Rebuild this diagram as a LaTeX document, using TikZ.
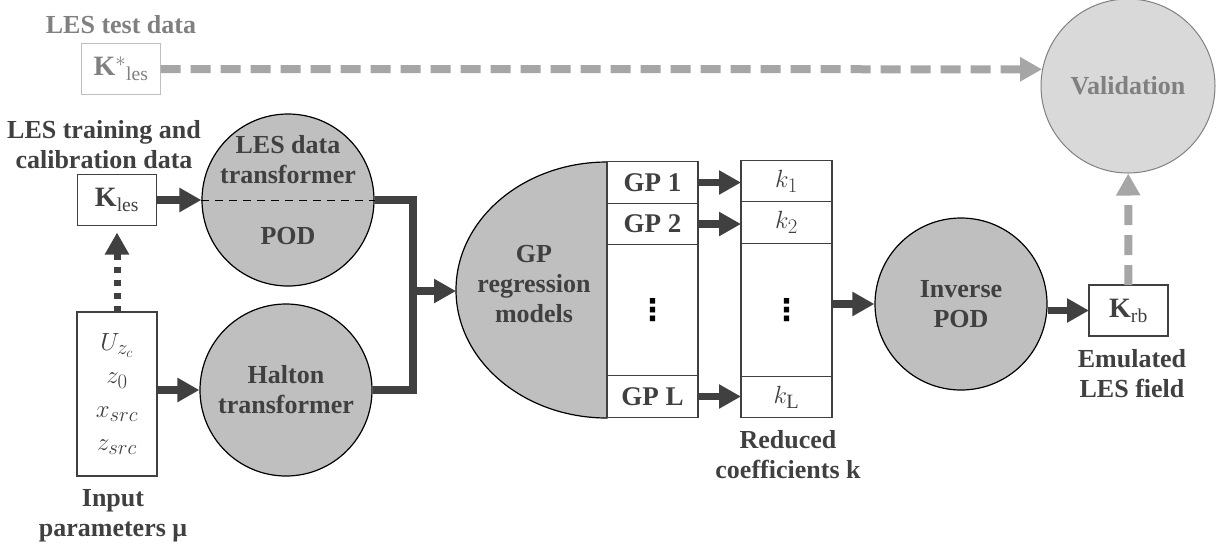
\documentclass[tikz,border=0pt]{standalone}
\usepackage{amsmath}
\usepackage{fontspec}
\setmainfont{Liberation Serif}
\newfontfamily\dotsfont{DejaVu Sans}
\usetikzlibrary{positioning, arrows.meta}
\definecolor{ink}{HTML}{404040}
\definecolor{fillgray}{HTML}{BFBFBF}
\definecolor{lightfill}{HTML}{D9D9D9}
\definecolor{midgray}{HTML}{808080}
\definecolor{dashgray}{HTML}{A6A6A6}
\tikzset{
txt/.style={font=\fontsize{26}{30}\selectfont\bfseries, text=ink, align=center, inner sep=0pt}, % plain labels
proc/.style={txt, circle, draw=black, line width=1.2pt, fill=fillgray, minimum size=172pt}, % grey process circles
databox/.style={draw=ink, line width=1.3pt, fill=white, minimum width=79pt, minimum height=51pt, inner sep=0pt, outer sep=0pt, align=center, font=\fontsize{28}{30}\selectfont, text=ink}, % small data boxes
cell/.style={draw=ink, line width=1.3pt, fill=white, minimum width=91pt, minimum height=41.5pt, inner sep=0pt, outer sep=0pt, font=\fontsize{27}{30}\selectfont\bfseries, text=ink}, % stacked table cells
kcell/.style={cell, font=\fontsize{29}{30}\selectfont}, % cells holding coefficients
dotcell/.style={cell, font=\fontsize{30}{30}\selectfont\dotsfont\bfseries, text=black}, % cell with vertical dots
head/.style={-{Triangle[length=22pt, width=23pt]}}, % big solid arrow heads
flow/.style={draw=ink, line width=7.5pt}, % thick solid links
check/.style={draw=dashgray, line width=8pt, dash pattern=on 20pt off 10pt}, % validation links
}
\begin{document}
\begin{tikzpicture}[x=1pt, y=-1pt]
    \useasboundingbox (0,0) rectangle (1220,550);

    % test data and validation
    \node[txt, text=midgray] (testlbl) at (121,25) {LES test data};
    \node[databox, draw=fillgray, text=midgray] (kstar) at (121,69) {$\mathbf{K}^{*}{}_{\mathrm{les}}$};
    \node[proc, fill=lightfill, draw=midgray, line width=1pt, text=midgray, minimum size=174pt] (valid) at (1128,86) {Validation};

    % inputs
    \node[txt] (trainlbl) at (104,145) {LES training and\\calibration data};
    \node[databox] (kles) at (117,200) {$\mathbf{K}_{\mathrm{les}}$};
    \node[databox, minimum width=80pt, minimum height=164pt, font=\fontsize{29}{33.5}\selectfont] (inp) at (117,394) {$U_{z_c}$\\$z_0$\\$x_{src}$\\$z_{src}$};
    \node[txt] (inplbl) at (113,516) {Input\\parameters μ};

    % transformers
    \node[proc] (lesdt) at (288,200) {};
    \node[txt] (lesdtlbl) at (288,160) {LES data\\transformer};
    \node[txt] (podlbl) at (288,236) {POD};
    \draw[dash pattern=on 8pt off 6pt, line width=1pt] (lesdt.west) -- (lesdt.east);
    \node[proc] (halton) at (286,390) {Halton\\transformer};

    % GP regression models
    \draw[line width=1.2pt, fill=fillgray] (607,162) arc[start angle=270, end angle=90, x radius=151, y radius=128] -- cycle;
    \node[txt] (gpreg) at (534,284) {GP\\regression\\models};
    \coordinate (gpin) at (456,291);
    \node[cell] (gp1) at (652.5,182.5) {GP 1};
    \node[cell, below=0pt of gp1] (gp2) {GP 2};
    \node[dotcell, below=0pt of gp2, minimum height=131pt] (gpdots) {⋮};
    \node[cell, below=0pt of gpdots] (gpL) {GP L};

    % reduced coefficients
    \node[kcell] (k1) at (786.5,181) {$k_1$};
    \node[kcell, below=0pt of k1] (k2) {$k_2$};
    \node[dotcell, below=0pt of k2, minimum height=133pt] (kdots) {⋮};
    \node[kcell, below=0pt of kdots] (kL) {$k_{\mathrm{L}}$};
    \node[txt] (redlbl) at (788,455) {Reduced\\coefficients k};

    % output
    \node[proc] (invpod) at (961,304) {Inverse\\POD};
    \node[databox] (krb) at (1128.5,310.5) {$\mathbf{K}_{\mathrm{rb}}$};
    \node[txt] (emulbl) at (1132,374) {Emulated\\LES field};

    \coordinate (jn) at (413,291);
    \draw[flow] (lesdt.east) -| (jn);
    \draw[flow] (halton.east) -| (jn);
    \draw[flow, head] (jn) -- (gpin);

    \draw[flow, head] (kles) -- (lesdt);
    \draw[flow, head] (inp.east |- halton.west) -- (halton.west);
    \draw[flow, head] (gp1.east) -- (gp1.east -| k1.west);
    \draw[flow, head] (gp2.east) -- (gp2.east -| k2.west);
    \draw[flow, head] (gpL.east) -- (gpL.east -| kL.west);
    \draw[flow, head] (kdots.east |- invpod.west) -- (invpod.west);
    \draw[flow, head] (invpod.east |- krb.west) -- (krb.west);

    \draw[draw=ink, line width=7pt, dash pattern=on 6pt off 7pt, head, shorten >=7pt] (inp) -- (kles);

    \draw[check, head] (kstar.east) -- (valid.169);
    \draw[check, head] (krb) -- (valid);
\end{tikzpicture}
\end{document}
